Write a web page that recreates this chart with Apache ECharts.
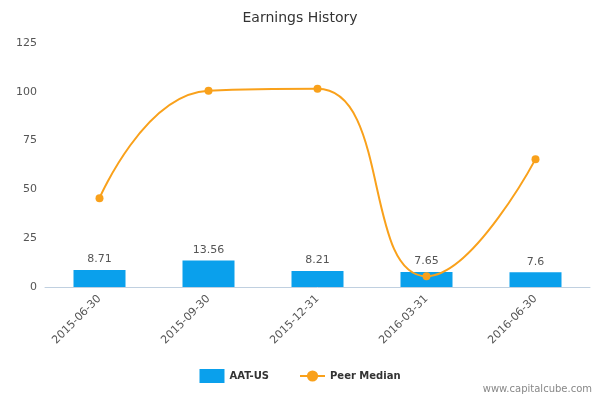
<!DOCTYPE html>
<html><head><meta charset="utf-8">
<script src="https://cdn.jsdelivr.net/npm/echarts@6/dist/echarts.min.js"></script>
<style>body{margin:0}#c{width:600px;height:400px}</style>
</head><body><div id="c"></div>
<script>
var categories = ["2015-06-30", "2015-09-30", "2015-12-31", "2016-03-31", "2016-06-30"];
var aatValues = [8.71, 13.56, 8.21, 7.65, 7.6];
var peerMedian = [45.5, 100.5, 101.5, 5.5, 65.5];
var yTicks = [0, 25, 50, 75, 100, 125];

var chart = echarts.init(document.getElementById("c"));
chart.setOption({
	title: { text: "Earnings History", left: "center", top: 6,
		textStyle: { fontFamily: "DejaVu Sans", fontSize: 14, fontWeight: "normal", color: "#333" } },
	grid: { left: 45, right: 10, top: 43, bottom: 113 },
	legend: { bottom: 12, itemGap: 30, textStyle: { fontFamily: "DejaVu Sans", fontSize: 10, fontWeight: "bold", color: "#333" },
		data: [{ name: "AAT-US", icon: "rect" }, { name: "Peer Median" }] },
	graphic: [{ type: "text", right: 8, bottom: 6,
		style: { text: "www.capitalcube.com", fill: "#888", font: "10px DejaVu Sans" } }],
	xAxis: { type: "category", data: categories,
		axisLine: { lineStyle: { color: "#c0d0e0" } },
		axisTick: { lineStyle: { color: "#c0d0e0" }, length: 8 },
		axisLabel: { rotate: 45, color: "#555", fontFamily: "DejaVu Sans", fontSize: 11, margin: 10 } },
	yAxis: { type: "value", min: yTicks[0], max: yTicks[yTicks.length - 1], interval: 25,
		splitLine: { show: false }, axisLine: { show: false }, axisTick: { show: false },
		axisLabel: { color: "#555", fontFamily: "DejaVu Sans", fontSize: 11 } },
	series: [
		{ name: "AAT-US", type: "bar", data: aatValues, barWidth: 52, itemStyle: { color: "#0aa0ec" },
			label: { show: true, position: "top", color: "#555", fontFamily: "DejaVu Sans", fontSize: 11 } },
		{ name: "Peer Median", type: "line", data: peerMedian, smooth: true, symbol: "circle", symbolSize: 8,
			itemStyle: { color: "#f9a11b" }, lineStyle: { color: "#f9a11b", width: 2 } }
	]
});
</script></body></html>
